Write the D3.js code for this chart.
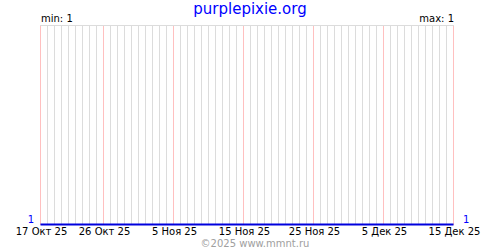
<!DOCTYPE html>
<html>
<head>
<meta charset="utf-8">
<script src="https://cdn.jsdelivr.net/npm/d3@7"></script>
<style>
  body { margin: 0; background: #fff; }
  svg { display: block; }
  text { font-family: "DejaVu Sans", Verdana, sans-serif; }
</style>
</head>
<body>
<div class="graph"></div>
<script>
//data//
let startDay = '2025-10-17';
let values = [1,1,1,1,1,1,1,1,1,1, 1,1,1,1,1,1,1,1,1,1,
              1,1,1,1,1,1,1,1,1,1, 1,1,1,1,1,1,1,1,1,1,
              1,1,1,1,1,1,1,1,1,1, 1,1,1,1,1,1,1,1,1,1];
let tickDays = ['2025-10-17', '2025-10-26', '2025-11-05', '2025-11-15', '2025-11-25', '2025-12-05', '2025-12-15'];
let tickLabels = ['17 Окт 25', '26 Окт 25', '5 Ноя 25', '15 Ноя 25', '25 Ноя 25', '5 Дек 25', '15 Дек 25'];
let title = 'purplepixie.org';
let footer = '©2025 www.mmnt.ru';

//various constants//
let w = 500;
let h = 250;
let padL = 40, padR = 453, padT = 25, padB = 225;

let parse = d3.utcParse('%Y-%m-%d');
let start = parse(startDay);
let dates = values.map((v, i) => d3.utcDay.offset(start, i));
let ticks = tickDays.map(parse);

let minV = d3.min(values);
let maxV = d3.max(values);

let xScale = d3.scaleUtc()
    .domain([dates[0], dates[dates.length - 1]])
    .range([padL, padR]);

let yScale = d3.scaleLinear()
    .domain([minV, maxV > minV ? maxV : minV + 1])
    .range([padB, padT]);

let svg = d3.select('.graph')
    .append('svg')
    .attr('width', w)
    .attr('height', h);

//day grid//
svg.append('g')
    .selectAll('line')
    .data(dates)
    .enter()
    .append('line')
    .attr('x1', d => Math.round(xScale(d)) + 0.5)
    .attr('x2', d => Math.round(xScale(d)) + 0.5)
    .attr('y1', padT)
    .attr('y2', padB)
    .attr('stroke', d => ticks.some(t => +t === +d) ? '#ffc0c0' : '#dcdcdc')
    .attr('stroke-width', 1);

svg.append('line')
    .attr('x1', padL)
    .attr('x2', padR + 1)
    .attr('y1', padT + 0.5)
    .attr('y2', padT + 0.5)
    .attr('stroke', '#dcdcdc');

//x axis labels//
let xAxis = d3.axisBottom(xScale)
    .tickValues(ticks)
    .tickSize(0)
    .tickPadding(0)
    .tickFormat((d, i) => tickLabels[i]);

svg.append('g')
    .attr('id', 'x-axis')
    .attr('transform', 'translate(1, 228)')
    .call(xAxis)
    .call(g => g.select('.domain').remove())
    .selectAll('text')
    .attr('dy', '0.71em')
    .attr('fill', '#000')
    .style('font-family', '"DejaVu Sans", Verdana, sans-serif')
    .style('font-size', '10px');

//series line//
let line = d3.line()
    .x(d => xScale(d[0]) + 0.5)
    .y(d => yScale(d[1]) - 0.5);

svg.append('path')
    .datum(dates.map((d, i) => [d, values[i]]))
    .attr('d', line)
    .attr('fill', 'none')
    .attr('stroke', '#0000dd')
    .attr('stroke-width', 2);

//texts//
svg.append('text')
    .attr('x', 250)
    .attr('y', 14)
    .attr('text-anchor', 'middle')
    .attr('fill', '#0000ff')
    .style('font-size', '15px')
    .text(title);

svg.append('text')
    .attr('x', padL + 1)
    .attr('y', 22)
    .attr('fill', '#000')
    .style('font-size', '10px')
    .text('min: ' + minV);

svg.append('text')
    .attr('x', padR + 1)
    .attr('y', 22)
    .attr('text-anchor', 'end')
    .attr('fill', '#000')
    .style('font-size', '10px')
    .text('max: ' + maxV);

svg.append('text')
    .attr('x', 34)
    .attr('y', 223)
    .attr('text-anchor', 'end')
    .attr('fill', '#0000ff')
    .style('font-size', '10px')
    .text(values[0]);

svg.append('text')
    .attr('x', 463)
    .attr('y', 223)
    .attr('fill', '#0000ff')
    .style('font-size', '10px')
    .text(values[values.length - 1]);

svg.append('text')
    .attr('x', 255)
    .attr('y', 247)
    .attr('text-anchor', 'middle')
    .attr('fill', '#a0a0a0')
    .style('font-size', '10px')
    .text(footer);
</script>
</body>
</html>
